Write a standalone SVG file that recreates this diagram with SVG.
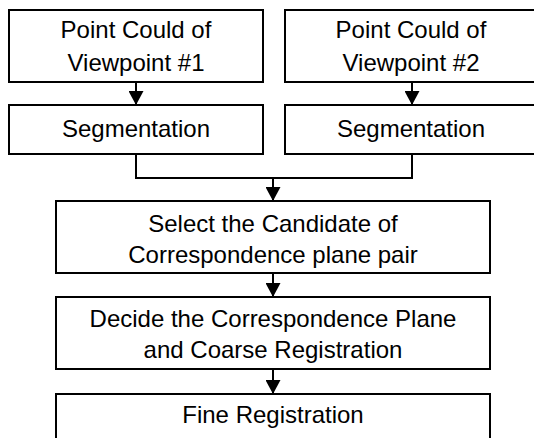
<svg xmlns="http://www.w3.org/2000/svg" width="534" height="438" viewBox="0 0 534 438">
<style>
.box{fill:#fff;stroke:#000;stroke-width:2}
.t{font-family:"Liberation Sans",Arial,sans-serif;font-size:24px;fill:#000;text-anchor:middle}
.c{fill:none;stroke:#000;stroke-width:2}
</style>
<defs>
<marker id="ah" markerUnits="userSpaceOnUse" markerWidth="15" markerHeight="15" refX="14" refY="7.5" orient="auto" viewBox="0 0 15 15">
<path d="M0,0 L14,7.5 L0,15 Z" fill="#000"/>
</marker>
</defs>
<rect width="534" height="438" fill="#fff"/>
<g id="connectors">
<line class="c" x1="136" y1="82" x2="136" y2="105" marker-end="url(#ah)"/>
<line class="c" x1="412" y1="82" x2="412" y2="105" marker-end="url(#ah)"/>
<polyline class="c" points="136,154 136,178 412,178 412,154"/>
<line class="c" x1="273" y1="178" x2="273" y2="201" marker-end="url(#ah)"/>
<line class="c" x1="273" y1="273" x2="273" y2="297" marker-end="url(#ah)"/>
<line class="c" x1="273" y1="369" x2="273" y2="394" marker-end="url(#ah)"/>
</g>
<g id="pc1">
<rect class="box" x="9" y="10" width="254" height="72"/>
<text class="t" x="136" y="38">Point Could of</text>
<text class="t" x="136" y="71">Viewpoint #1</text>
</g>
<g id="pc2">
<rect class="box" x="285" y="10" width="254" height="72"/>
<text class="t" x="411" y="38">Point Could of</text>
<text class="t" x="411" y="71">Viewpoint #2</text>
</g>
<g id="seg1">
<rect class="box" x="9" y="105" width="254" height="49"/>
<text class="t" x="136" y="137">Segmentation</text>
</g>
<g id="seg2">
<rect class="box" x="285" y="105" width="254" height="49"/>
<text class="t" x="411" y="137">Segmentation</text>
</g>
<g id="select">
<rect class="box" x="56" y="201" width="434" height="72"/>
<text class="t" x="273" y="232">Select the Candidate of</text>
<text class="t" x="273" y="263">Correspondence plane pair</text>
</g>
<g id="decide">
<rect class="box" x="56" y="297" width="434" height="72"/>
<text class="t" x="273" y="327">Decide the Correspondence Plane</text>
<text class="t" x="273" y="358">and Coarse Registration</text>
</g>
<g id="fine">
<rect class="box" x="56" y="394" width="434" height="60"/>
<text class="t" x="273" y="423">Fine Registration</text>
</g>
</svg>
